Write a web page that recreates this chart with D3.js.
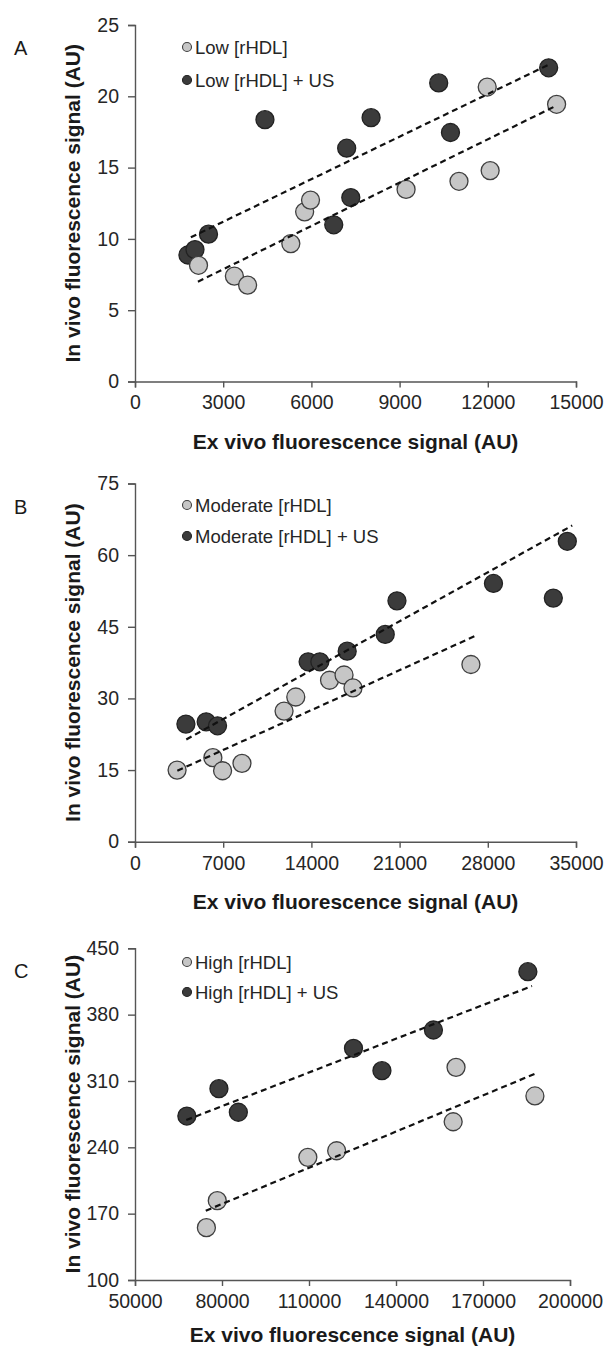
<!DOCTYPE html>
<html>
<head>
<meta charset="utf-8">
<script src="https://cdn.jsdelivr.net/npm/d3@7"></script>
<style>
  body { margin: 0; background: #fff; }
  text { font-family: "Liberation Sans", Arial, sans-serif; }
</style>
</head>
<body>
<div id="chart"></div>
<script>
// Panel A: low [rHDL]
const lowX = [2160, 3380, 3830, 5300, 5770, 5970, 9220, 11020, 12080, 11980, 14340];
const lowY = [8.15, 7.39, 6.76, 9.67, 11.9, 12.72, 13.47, 14.04, 14.79, 20.65, 19.44];
const lowUsX = [1800, 2040, 2500, 4420, 6760, 7200, 7340, 8030, 10330, 10730, 14070];
const lowUsY = [8.87, 9.25, 10.33, 18.36, 10.99, 16.36, 12.9, 18.5, 20.94, 17.46, 22.0];
// dashed trend lines, end points [x, y]
const lowTrend = [[2140, 7.0], [14260, 19.27]];
const lowUsTrend = [[1900, 10.11], [14125, 22.27]];

// Panel B: moderate [rHDL]
const modX = [3340, 6180, 6950, 8490, 11830, 12760, 15440, 16590, 17300, 26660];
const modY = [15.0, 17.6, 14.86, 16.4, 27.35, 30.3, 33.8, 34.9, 32.2, 37.1];
const modUsX = [4040, 5650, 6550, 13740, 14670, 16840, 19860, 20790, 28450, 33200, 34310];
const modUsY = [24.63, 25.1, 24.27, 37.67, 37.67, 39.9, 43.4, 50.43, 54.07, 51.0, 62.9];
const modTrend = [[3360, 14.86], [26960, 43.04]];
const modUsTrend = [[4070, 21.4], [34700, 66.2]];

// Panel C: high [rHDL]
const highX = [74620, 78370, 109600, 119540, 159710, 160700, 187900];
const highY = [155.2, 183.7, 229.4, 236.4, 267.0, 324.4, 294.2];
const highUsX = [67880, 78940, 85630, 125340, 135150, 152910, 185470];
const highUsY = [273.0, 301.9, 277.0, 344.5, 320.9, 363.8, 425.3];
const highTrend = [[74400, 173.1], [188300, 318.1]];
const highUsTrend = [[67690, 268.8], [186900, 410.2]];

// ticks
const aXTicks = [0, 3000, 6000, 9000, 12000, 15000];
const aYTicks = [0, 5, 10, 15, 20, 25];
const bXTicks = [0, 7000, 14000, 21000, 28000, 35000];
const bYTicks = [0, 15, 30, 45, 60, 75];
const cXTicks = [50000, 80000, 110000, 140000, 170000, 200000];
const cYTicks = [100, 170, 240, 310, 380, 450];

const width = 611, height = 1348;
const lightFill = "#c6c6c6", lightStroke = "#3f3f3f";
const darkFill = "#3b3b3b", darkStroke = "#222";

const svg = d3.select("#chart").append("svg")
  .attr("width", width)
  .attr("height", height);

const panels = [
  { letter: "A", top: 25, bottom: 381.5, left: 135, right: 576, titleOff: 67,
    xTicks: aXTicks, yTicks: aYTicks,
    light: [lowX, lowY], dark: [lowUsX, lowUsY], trends: [lowTrend, lowUsTrend],
    names: ["Low [rHDL]", "Low [rHDL] + US"], legendY: [47, 80] },
  { letter: "B", top: 483.5, bottom: 841.7, left: 135, right: 576, titleOff: 67,
    xTicks: bXTicks, yTicks: bYTicks,
    light: [modX, modY], dark: [modUsX, modUsY], trends: [modTrend, modUsTrend],
    names: ["Moderate [rHDL]", "Moderate [rHDL] + US"], legendY: [505, 536] },
  { letter: "C", top: 948.3, bottom: 1280, left: 135, right: 570, titleOff: 62,
    xTicks: cXTicks, yTicks: cYTicks,
    light: [highX, highY], dark: [highUsX, highUsY], trends: [highTrend, highUsTrend],
    names: ["High [rHDL]", "High [rHDL] + US"], legendY: [962, 992] }
];

panels.forEach(p => {
  const x = d3.scaleLinear()
    .domain(d3.extent(p.xTicks))
    .range([p.left, p.right]);
  const y = d3.scaleLinear()
    .domain(d3.extent(p.yTicks))
    .range([p.bottom, p.top]);

  const g = svg.append("g");

  // axes
  const xAxis = g.append("g")
    .attr("transform", `translate(0,${p.bottom})`)
    .call(d3.axisBottom(x).tickValues(p.xTicks).tickSize(6).tickPadding(8).tickFormat(d3.format("d")));
  const yAxis = g.append("g")
    .attr("transform", `translate(${p.left},0)`)
    .call(d3.axisLeft(y).tickValues(p.yTicks).tickSize(7).tickPadding(9).tickFormat(d3.format("d")));

  [xAxis, yAxis].forEach(ax => {
    ax.select(".domain").attr("stroke", "#555").attr("stroke-width", 1.4);
    ax.selectAll(".tick line").attr("stroke", "#555").attr("stroke-width", 1.4);
    ax.selectAll(".tick text")
      .attr("fill", "#262626")
      .style("font-family", '"Liberation Sans", Arial, sans-serif')
      .style("font-size", "19.5px");
  });

  // axis titles
  g.append("text")
    .attr("x", (p.left + p.right) / 2)
    .attr("y", p.bottom + p.titleOff)
    .attr("text-anchor", "middle")
    .attr("font-size", 21)
    .attr("font-weight", "bold")
    .attr("fill", "#1a1a1a")
    .text("Ex vivo fluorescence signal (AU)");

  g.append("text")
    .attr("transform", `translate(80,${(p.top + p.bottom) / 2}) rotate(-90)`)
    .attr("text-anchor", "middle")
    .attr("font-size", 21)
    .attr("font-weight", "bold")
    .attr("fill", "#1a1a1a")
    .text("In vivo fluorescence signal (AU)");

  // panel letter
  g.append("text")
    .attr("x", 14)
    .attr("y", p.top + 30)
    .attr("font-size", 20)
    .attr("fill", "#1a1a1a")
    .text(p.letter);

  // points: dark series then light
  const series = [
    { xs: p.dark[0], ys: p.dark[1], fill: darkFill, stroke: darkStroke },
    { xs: p.light[0], ys: p.light[1], fill: lightFill, stroke: lightStroke }
  ];
  series.forEach(s => {
    g.append("g").selectAll("circle")
      .data(d3.range(s.xs.length))
      .join("circle")
      .attr("cx", i => x(s.xs[i]))
      .attr("cy", i => y(s.ys[i]))
      .attr("r", 9)
      .attr("fill", s.fill)
      .attr("stroke", s.stroke)
      .attr("stroke-width", 1.3);
  });

  // trend lines
  const line = d3.line().x(d => x(d[0])).y(d => y(d[1]));
  p.trends.forEach(t => {
    g.append("path")
      .attr("d", line(t))
      .attr("fill", "none")
      .attr("stroke", "#111")
      .attr("stroke-width", 2.2)
      .attr("stroke-dasharray", "6,4");
  });

  // legend
  const leg = [
    { name: p.names[0], fill: lightFill, stroke: lightStroke },
    { name: p.names[1], fill: darkFill, stroke: darkStroke }
  ];
  leg.forEach((l, i) => {
    g.append("circle")
      .attr("cx", 187)
      .attr("cy", p.legendY[i])
      .attr("r", 4.5)
      .attr("fill", l.fill)
      .attr("stroke", l.stroke)
      .attr("stroke-width", 1.1);
    g.append("text")
      .attr("x", 195)
      .attr("y", p.legendY[i] + 6.5)
      .attr("font-size", 18.5)
      .attr("fill", "#262626")
      .text(l.name);
  });
});
</script>
</body>
</html>
